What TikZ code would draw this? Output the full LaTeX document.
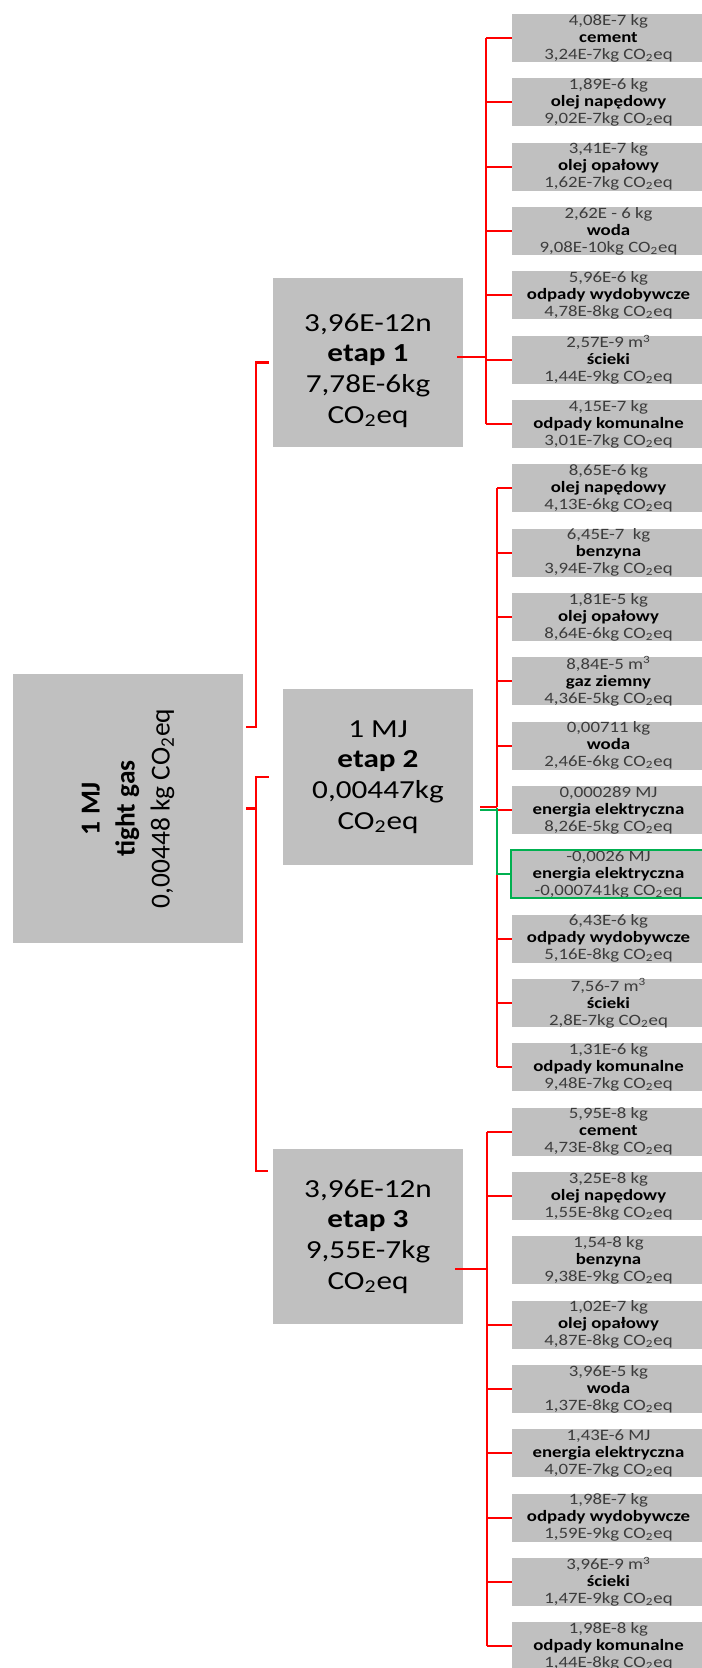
\documentclass[tikz,border=0pt]{standalone}
\usepackage{fontspec}
\setmainfont{Carlito}
\newfontfamily\leaffont[FakeStretch=1.19]{Carlito}
\newfontfamily\etapfont[FakeStretch=1.2]{Carlito}
\newfontfamily\rootfont{Carlito}
\usetikzlibrary{calc}
\definecolor{boxgray}{RGB}{192,192,192}
\definecolor{lred}{RGB}{255,0,0}
\definecolor{lgreen}{RGB}{0,176,80}
\definecolor{txtgray}{RGB}{60,60,60}
\newcommand{\cotwo}{CO\textsubscript{2}eq}
\newcommand{\mcube}{m\textsuperscript{3}}
\newcommand{\leafitem}[4]{%
  \node[leafbox] (L#1) at (608.5,{38+64.33*#1}) {};
  \node[leaftext] (T#1) at (L#1) {#2\\{\color{black}\bfseries #3}\\#4};}
\begin{document}
\begin{tikzpicture}[x=0.5pt,y=-0.5pt,
  leafbox/.style={fill=boxgray, minimum width=96.5pt, minimum height=24pt, inner sep=0pt, outer sep=0pt},
  leaftext/.style={align=center, inner sep=0pt, font=\leaffont\fontsize{7.9}{8.5}\selectfont, text=txtgray},
  etapbox/.style={fill=boxgray, minimum width=95pt, inner sep=0pt, outer sep=0pt},
  etaptext/.style={align=center, inner sep=0pt, font=\etapfont\fontsize{13}{15.35}\selectfont, text=black},
  redline/.style={draw=lred, line width=1.1pt},
  greenline/.style={draw=lgreen, line width=1.1pt},
]
\useasboundingbox (0,0) rectangle (701,1668);

% root
\node[fill=boxgray, rotate=90, minimum width=134.5pt, minimum height=115pt, inner sep=0pt, outer sep=0pt] (root) at (128,808.5) {};
\node[rotate=90, align=center, inner sep=0pt, font=\rootfont\fontsize{13.7}{17.5}\selectfont] (roott) at (root)
  {\textbf{1 MJ}\\\textbf{tight gas}\\0,00448 kg \cotwo};

% stages
\node[etapbox, minimum height=84.5pt] (e1) at (368,362.5) {};
\node[etaptext] (e1t) at ([yshift=-4pt]e1.center) {3,96E-12n\\\textbf{etap 1}\\7,78E-6kg\\\cotwo};
\node[etapbox, minimum height=88pt] (e2) at (378,777) {};
\node[etaptext] (e2t) at (e2) {1 MJ\\\textbf{etap 2}\\0,00447kg\\\cotwo};
\node[etapbox, minimum height=87.5pt] (e3) at (368,1236.5) {};
\node[etaptext] (e3t) at (e3) {3,96E-12n\\\textbf{etap 3}\\9,55E-7kg\\\cotwo};

% leaves, group 1
\leafitem{0}{4,08E-7 kg}{cement}{3,24E-7kg \cotwo}
\leafitem{1}{1,89E-6 kg}{olej napędowy}{9,02E-7kg \cotwo}
\leafitem{2}{3,41E-7 kg}{olej opałowy}{1,62E-7kg \cotwo}
\leafitem{3}{2,62E - 6 kg}{woda}{9,08E-10kg \cotwo}
\leafitem{4}{5,96E-6 kg}{odpady wydobywcze}{4,78E-8kg \cotwo}
\leafitem{5}{2,57E-9 \mcube}{ścieki}{1,44E-9kg \cotwo}
\leafitem{6}{4,15E-7 kg}{odpady komunalne}{3,01E-7kg \cotwo}
% group 2
\leafitem{7}{8,65E-6 kg}{olej napędowy}{4,13E-6kg \cotwo}
\leafitem{8}{6,45E-7 \ kg}{benzyna}{3,94E-7kg \cotwo}
\leafitem{9}{1,81E-5 kg}{olej opałowy}{8,64E-6kg \cotwo}
\leafitem{10}{8,84E-5 \mcube}{gaz ziemny}{4,36E-5kg \cotwo}
\leafitem{11}{0,00711 kg}{woda}{2,46E-6kg \cotwo}
\leafitem{12}{0,000289 MJ}{energia elektryczna}{8,26E-5kg \cotwo}
\leafitem{13}{-0,0026 MJ}{energia elektryczna}{-0,000741kg \cotwo}
\leafitem{14}{6,43E-6 kg}{odpady wydobywcze}{5,16E-8kg \cotwo}
\leafitem{15}{7,56-7 \mcube}{ścieki}{2,8E-7kg \cotwo}
\leafitem{16}{1,31E-6 kg}{odpady komunalne}{9,48E-7kg \cotwo}
% group 3
\leafitem{17}{5,95E-8 kg}{cement}{4,73E-8kg \cotwo}
\leafitem{18}{3,25E-8 kg}{olej napędowy}{1,55E-8kg \cotwo}
\leafitem{19}{1,54-8 kg}{benzyna}{9,38E-9kg \cotwo}
\leafitem{20}{1,02E-7 kg}{olej opałowy}{4,87E-8kg \cotwo}
\leafitem{21}{3,96E-5 kg}{woda}{1,37E-8kg \cotwo}
\leafitem{22}{1,43E-6 MJ}{energia elektryczna}{4,07E-7kg \cotwo}
\leafitem{23}{1,98E-7 kg}{odpady wydobywcze}{1,59E-9kg \cotwo}
\leafitem{24}{3,96E-9 \mcube}{ścieki}{1,47E-9kg \cotwo}
\leafitem{25}{1,98E-8 kg}{odpady komunalne}{1,44E-8kg \cotwo}

% root to stages
\draw[redline] ($(root.south)+(3,-81.5)$) -- ++(10,0) |- ($(e1.west)+(-4,0)$);
\draw[redline] ($(root.south)+(3,0)$) -- ++(10,0) coordinate (rj);
\draw[redline] (rj) |- ($(e2.west)+(-14,0)$);
\draw[redline] (rj) |- ($(e3.west)+(-5,-65.5)$);

% bus coordinates
\coordinate (v1) at (486,0);
\coordinate (v2) at (497,0);
\coordinate (v3) at (487,0);

% group 1
\draw[redline] ($(e1.east)+(-6,-5.5)$) -- ($(v1)+(0,357)$);
\draw[redline] (v1 |- L0.west) -- (v1 |- L6.west);
\foreach \k in {0,...,6} \draw[redline] (v1 |- L\k.west) -- (L\k.west);

% group 2
\coordinate (j2) at (497,807);
\draw[redline] ($(e2.east)+(7,30)$) -- (j2);
\draw[greenline] ($(e2.east)+(7,33)$) -- ($(j2)+(0,3)$);
\draw[redline] (v2 |- L7.west) -- (j2);
\draw[redline] (v2 |- L13.west) -- (v2 |- L16.west);
\foreach \k in {7,...,12,14,15,16} \draw[redline] (v2 |- L\k.west) -- (L\k.west);
\draw[greenline] ($(j2)+(0,1)$) -- (v2 |- L13.west) -- (L13.west);
\draw[lgreen, line width=1.1pt] ([xshift=-0.5pt]L13.north west) rectangle ([xshift=2pt]L13.south east);

% group 3
\draw[redline] ($(e3.east)+(-8,32.5)$) -- ($(v3)+(0,1269)$);
\draw[redline] (v3 |- L17.west) -- (v3 |- L25.west);
\foreach \k in {17,18,20,21,...,25} \draw[redline] (v3 |- L\k.west) -- (L\k.west);
\end{tikzpicture}
\end{document}
